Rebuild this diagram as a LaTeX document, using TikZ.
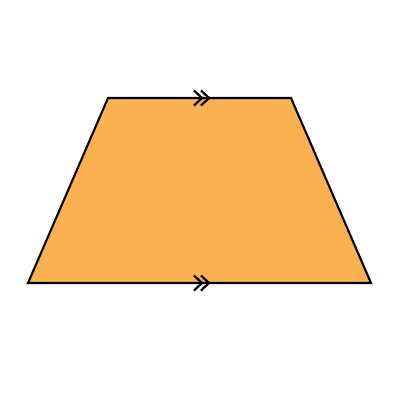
\documentclass[tikz,border=0pt]{standalone}
\definecolor{trapfill}{RGB}{251,177,82}
\tikzset{edge/.style={draw=black,line width=2.1pt,line join=miter},
chev/.style={draw=black,line width=2.2pt,line join=miter}}
\begin{document}
\begin{tikzpicture}[x=1pt,y=-1pt]
\useasboundingbox (0,0) rectangle (400,400);
\coordinate (A) at (28,283);
\coordinate (B) at (371,283);
\coordinate (C) at (291,98);
\coordinate (D) at (108,98);
\fill[trapfill] (A) -- (B) -- (C) -- (D) -- cycle;
\draw[edge] (A) -- (B) -- (C) -- (D) -- cycle;
\foreach \y in {98,283}{
  \draw[chev] (194,\y-7.5) -- (202,\y) -- (194,\y+7.5);
  \draw[chev] (201,\y-7.5) -- (209,\y) -- (201,\y+7.5);
}
\end{tikzpicture}
\end{document}
